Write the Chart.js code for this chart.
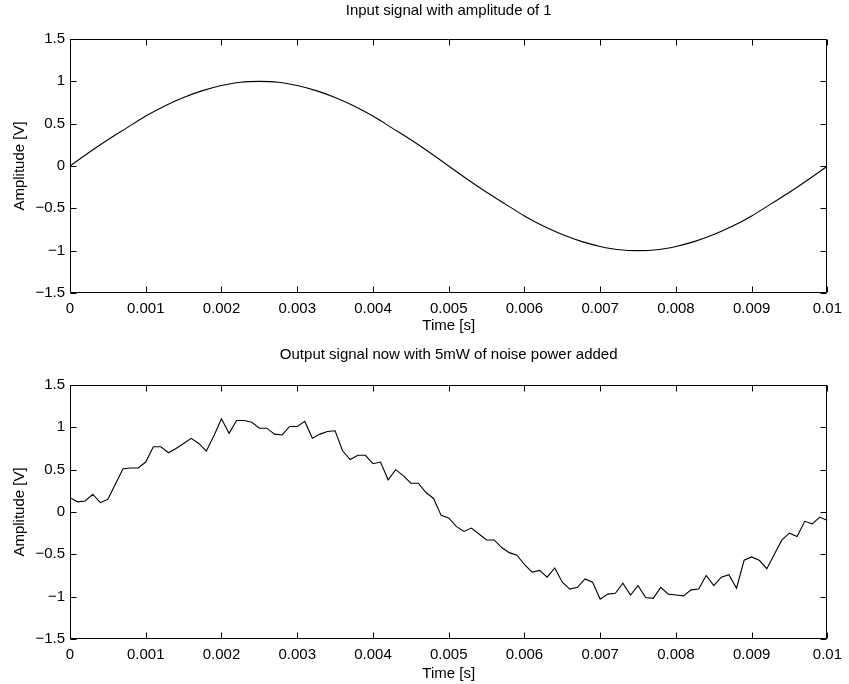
<!DOCTYPE html>
<html>
<head>
<meta charset="utf-8">
<script src="https://cdn.jsdelivr.net/npm/chart.js@4/dist/chart.umd.min.js"></script>
<style>
  html, body { margin: 0; padding: 0; background: #fff; }
  #wrap { position: relative; width: 849px; height: 684px; overflow: hidden; }
  canvas { position: absolute; left: 0; }
</style>
</head>
<body>
<div id="wrap">
  <canvas id="inputChart" width="849" height="342" style="top:0"></canvas>
  <canvas id="outputChart" width="849" height="338" style="top:346px"></canvas>
</div>
<script>
// Clean input sine, sampled every 0.25 ms
const inputStep = 0.00025;
const inputAmp = [
  0, 0.16, 0.31, 0.45, 0.59, 0.71, 0.81, 0.89, 0.95, 0.99,
  1, 0.99, 0.95, 0.89, 0.81, 0.71, 0.59, 0.45, 0.31, 0.16,
  0, -0.16, -0.31, -0.45, -0.59, -0.71, -0.81, -0.89, -0.95, -0.99,
  -1, -0.99, -0.95, -0.89, -0.81, -0.71, -0.59, -0.45, -0.31, -0.16,
  0
];

// Noisy output, sampled every 0.1 ms
const outputStep = 0.0001;
const outputAmp = [
  0.17, 0.12, 0.13, 0.21, 0.11, 0.15, 0.33, 0.51, 0.52, 0.52,
  0.59, 0.77, 0.77, 0.70, 0.75, 0.81, 0.87, 0.81, 0.72, 0.90,
  1.10, 0.93, 1.08, 1.08, 1.06, 0.99, 0.99, 0.92, 0.91, 1.01,
  1.01, 1.07, 0.87, 0.92, 0.95, 0.96, 0.72, 0.62, 0.67, 0.67,
  0.57, 0.59, 0.38, 0.50, 0.43, 0.34, 0.34, 0.23, 0.16, -0.04,
  -0.07, -0.17, -0.23, -0.19, -0.26, -0.33, -0.33, -0.42, -0.48, -0.51,
  -0.62, -0.71, -0.69, -0.77, -0.66, -0.83, -0.91, -0.89, -0.79, -0.83,
  -1.03, -0.97, -0.96, -0.84, -0.98, -0.87, -1.01, -1.02, -0.89, -0.97,
  -0.98, -0.99, -0.92, -0.91, -0.75, -0.87, -0.77, -0.74, -0.90, -0.57,
  -0.53, -0.57, -0.67, -0.50, -0.33, -0.25, -0.29, -0.11, -0.14, -0.06,
  -0.10
];

const timeRange = [0, 0.01];
const timeTickStep = 0.001;
const ampRange = [-1.5, 1.5];
const ampTickStep = 0.5;

const titles = ['Input signal with amplitude of 1', 'Output signal now with 5mW of noise power added'];
const xLabel = 'Time [s]';
const yLabel = 'Amplitude [V]';

Chart.defaults.font.family = '"Liberation Sans", Arial, Helvetica, sans-serif';
Chart.defaults.font.size = 15;
Chart.defaults.color = '#000';

// Closed box with inward tick marks on all four sides
const boxTicks = {
  id: 'boxTicks',
  afterDatasetsDraw(chart) {
    const { ctx, chartArea: a, scales: { x, y } } = chart;
    const L = Math.round(a.left) + 0.5, R = Math.round(a.right) - 0.5;
    const T = Math.round(a.top) + 0.5, B = Math.round(a.bottom) - 0.5;
    const len = 6;
    ctx.save();
    ctx.strokeStyle = '#000';
    ctx.lineWidth = 1;
    ctx.beginPath();
    ctx.rect(L, T, R - L, B - T);
    x.ticks.forEach(t => {
      const px = Math.round(x.getPixelForValue(t.value)) + 0.5;
      ctx.moveTo(px, B); ctx.lineTo(px, B - len);
      ctx.moveTo(px, T); ctx.lineTo(px, T + len);
    });
    y.ticks.forEach(t => {
      const py = Math.round(y.getPixelForValue(t.value)) + 0.5;
      ctx.moveTo(L, py); ctx.lineTo(L + len, py);
      ctx.moveTo(R, py); ctx.lineTo(R - len, py);
    });
    ctx.stroke();
    ctx.restore();
  }
};

function makeChart(id, title, step, values, smooth, bottomH, titlePad, xTitlePad) {
  const pts = values.map((v, i) => ({ x: i * step, y: v }));
  return new Chart(document.getElementById(id), {
    type: 'line',
    data: {
      datasets: [{
        data: pts,
        xAxisID: 'x',
        yAxisID: 'y',
        borderColor: '#000',
        borderWidth: 1.1,
        pointRadius: 0,
        fill: false,
        cubicInterpolationMode: smooth ? 'monotone' : 'default',
        tension: 0
      }]
    },
    options: {
      responsive: false,
      animation: false,
      events: [],
      layout: { padding: { left: 0, right: 18, top: 0, bottom: 0 } },
      plugins: { legend: { display: false }, tooltip: { enabled: false }, title: { display: false } },
      scales: {
        x: {
          type: 'linear', position: 'bottom',
          min: timeRange[0], max: timeRange[1],
          grid: { display: false, drawTicks: false },
          border: { display: false },
          ticks: {
            stepSize: timeTickStep, padding: 7, autoSkip: false, maxRotation: 0, minRotation: 0,
            color: '#000',
            callback: v => String(+v.toFixed(4))
          },
          title: { display: true, text: xLabel, color: '#000', padding: { top: 0, bottom: xTitlePad } },
          afterFit(s) { s.height = bottomH; }
        },
        xTop: {
          type: 'linear', position: 'top',
          min: timeRange[0], max: timeRange[1],
          grid: { display: false, drawTicks: false },
          border: { display: false },
          ticks: { display: false },
          title: { display: true, text: title, color: '#000', padding: { top: titlePad, bottom: 0 } },
          afterFit(s) { s.height = 39; }
        },
        y: {
          type: 'linear', position: 'left',
          min: ampRange[0], max: ampRange[1],
          grid: { display: false, drawTicks: false },
          border: { display: false },
          ticks: {
            stepSize: ampTickStep, padding: 5, color: '#000',
            callback: v => (v < 0 ? '\u2212' : '') + String(Math.abs(+v.toFixed(2)))
          },
          title: { display: true, text: yLabel, color: '#000', padding: { top: 11, bottom: 0 } },
          afterFit(s) { s.width = 70; }
        }
      }
    },
    plugins: [boxTicks]
  });
}

makeChart('inputChart', titles[0], inputStep, inputAmp, true, 49, 2, 7);
makeChart('outputChart', titles[1], outputStep, outputAmp, false, 45, 0, 1);
</script>
</body>
</html>
